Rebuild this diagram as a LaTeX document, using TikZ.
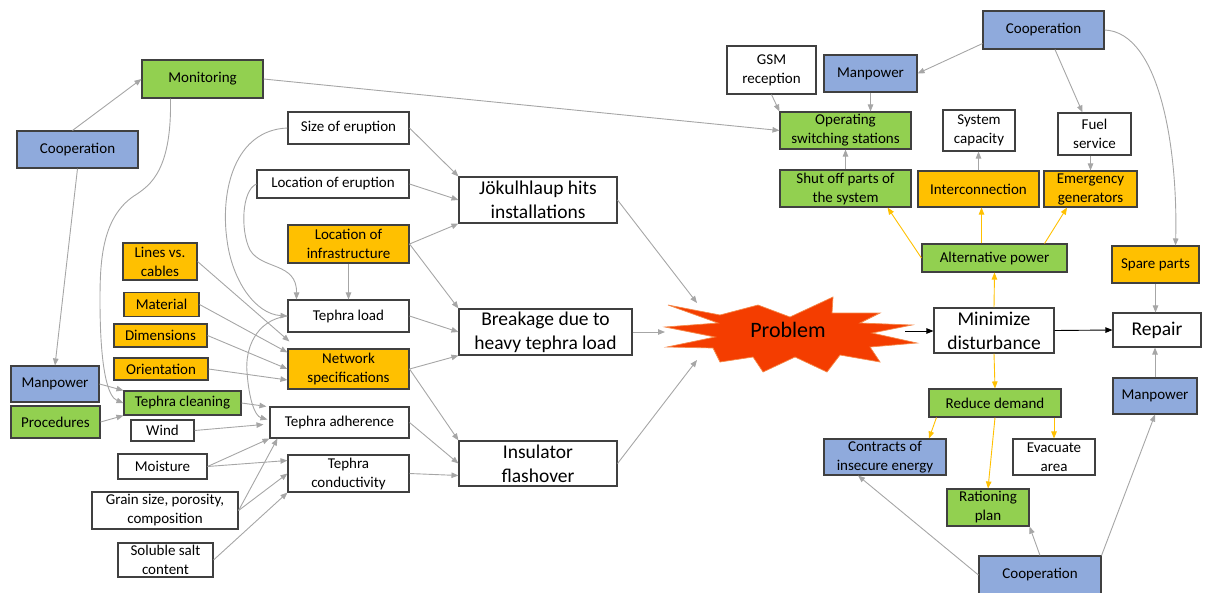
\documentclass[tikz,border=0pt]{standalone}
\usepackage{fontspec}
\setmainfont{Carlito}
\usepackage{tikz}
\usetikzlibrary{arrows.meta}

\definecolor{coopblue}{HTML}{8FAADC}
\definecolor{actgreen}{HTML}{92D050}
\definecolor{techorange}{HTML}{FFC000}
\definecolor{edgegray}{HTML}{A6A6A6}
\definecolor{boxline}{HTML}{404040}
\definecolor{burst}{HTML}{F43D00}
\definecolor{burstline}{HTML}{F4894A}

\tikzset{
  box/.style={draw=boxline, line width=1.1pt, fill=white, align=center, inner sep=1pt,
    font=\fontsize{15}{19}\selectfont},
  big/.style={font=\fontsize{19.5}{24}\selectfont},
  boxsize/.style 2 args={minimum width=#1pt, minimum height=#2pt},
  coop/.style={fill=coopblue},
  act/.style={fill=actgreen},
  tech/.style={fill=techorange},
  link/.style={color=edgegray, line width=0.9pt, -{Triangle[length=7pt,width=5.5pt]}},
  warm/.style={color=techorange, line width=0.9pt, -{Triangle[length=7pt,width=5.5pt]}},
  flow/.style={color=black, line width=0.9pt, -{Triangle[length=7pt,width=5.5pt]}}
}

\begin{document}
\begin{tikzpicture}[x=1pt, y=-1pt]
\useasboundingbox (0,0) rectangle (1206,592);

% left side: causes
\begin{scope}[every node/.style={box}]
  \node[coop, boxsize={121}{37}] (coopL) at (77.5,149.5) {Cooperation};
  \node[act, boxsize={121}{38}] (mon) at (202.5,79) {Monitoring};
  \node[boxsize={121}{32}] (sizeer) at (348.5,128) {Size of eruption};
  \node[boxsize={152}{28}] (loceru) at (333,184) {Location of eruption};
  \node[tech, boxsize={121}{38}] (locinf) at (348.5,244) {Location of\\infrastructure};
  \node[tech, boxsize={74}{37}] (lines) at (160,261.5) {Lines vs.\\cables};
  \node[tech, boxsize={75}{24}] (material) at (161.5,304.5) {Material};
  \node[tech, boxsize={93}{23}] (dims) at (160.5,335.5) {Dimensions};
  \node[tech, boxsize={94}{22}] (orient) at (161,369) {Orientation};
  \node[coop, boxsize={88}{36}] (manL) at (55,384) {Manpower};
  \node[act, boxsize={89}{32}] (proc) at (55.5,422) {Procedures};
  \node[act, boxsize={117}{24}] (clean) at (182.5,403) {Tephra cleaning};
  \node[boxsize={63}{21}] (wind) at (162.5,430.5) {Wind};
  \node[boxsize={89}{25}] (moist) at (162.5,466.5) {Moisture};
  \node[boxsize={146}{37}] (grain) at (165,510.5) {Grain size, porosity,\\composition};
  \node[boxsize={95}{34}] (salt) at (165.5,560) {Soluble salt\\content};
  \node[boxsize={121}{32}] (tload) at (348.5,316) {Tephra load};
  \node[tech, boxsize={121}{40}] (netspec) at (348.5,369) {Network\\specifications};
  \node[boxsize={139}{31}] (adher) at (339.5,422.5) {Tephra adherence};
  \node[boxsize={121}{37}] (cond) at (348.5,473.5) {Tephra\\conductivity};
\end{scope}

% middle
\begin{scope}[every node/.style={box, big}]
  \node[boxsize={158}{46}] (jok) at (538,200) {Jökulhlaup hits\\installations};
  \node[boxsize={173}{46}] (brk) at (545.5,332) {Breakage due to\\heavy tephra load};
  \node[boxsize={158}{45}] (insul) at (538,463.5) {Insulator\\flashover};
  \node[boxsize={120}{45}] (minim) at (994,330.5) {Minimize\\disturbance};
  \node[boxsize={88}{34}] (repair) at (1157,330) {Repair};
\end{scope}

\filldraw[fill=burst, draw=burstline, line width=0.7pt]
  (668,305) -- (720,315) -- (758,305) -- (790,317) -- (833,297) -- (832,313)
  -- (880,313) -- (860,323) -- (912,325) -- (872,333) -- (917,343) -- (870,347)
  -- (880,362) -- (840,355) -- (827,372) -- (795,357) -- (763,372) -- (753,357)
  -- (720,362) -- (713,348) -- (667,347) -- (715,337) -- (665,327) -- (718,323) -- cycle;
\node[font=\fontsize{22}{26}\selectfont] (prob) at (788,330) {Problem};
\coordinate (pN) at (697,303);
\coordinate (pW) at (665,332);
\coordinate (pS) at (697,360);
\coordinate (pE) at (905,331);

% right side: measures
\begin{scope}[every node/.style={box}]
  \node[act, boxsize={132}{28}] (redu) at (995,403) {Reduce demand};
  \node[coop, boxsize={122}{36}] (contr) at (885,457) {Contracts of\\insecure energy};
  \node[boxsize={82}{36}] (evac) at (1054,457) {Evacuate\\area};
  \node[act, boxsize={82}{37}] (ration) at (988,507.5) {Rationing\\plan};
  \node[coop, boxsize={122}{38}] (coopB) at (1040,575) {Cooperation};
  \node[coop, boxsize={84}{36}] (manR) at (1155,396) {Manpower};
  \node[tech, boxsize={87}{37}] (spare) at (1155.5,264.5) {Spare parts};
  \node[act, boxsize={145}{28}] (alt) at (994.5,258) {Alternative power};
  \node[act, boxsize={131}{37}] (shut) at (845.5,188.5) {Shut off parts of\\the system};
  \node[tech, boxsize={121}{36}] (inter) at (978.5,189) {Interconnection};
  \node[tech, boxsize={93}{36}] (emerg) at (1090.5,189) {Emergency\\generators};
  \node[act, boxsize={131}{37}] (oss) at (845.5,130.5) {Operating\\switching stations};
  \node[boxsize={72}{41}] (syscap) at (979,130.5) {System\\capacity};
  \node[boxsize={73}{42}] (fuel) at (1094.5,134) {Fuel\\service};
  \node[boxsize={89}{48}] (gsm) at (771.5,70) {GSM\\reception};
  \node[coop, boxsize={93}{37}] (manT) at (870.5,73.5) {Manpower};
  \node[coop, boxsize={121}{38}] (coopT) at (1043.5,30) {Cooperation};
\end{scope}

% gray links
\path[link] ([xshift=-5pt]coopL.north) edge (mon.west);
\path[link] (coopL.south) edge (manL.north);
\path[link] (mon.east) edge (oss.west);
\path[link] (manL.east) edge (clean.north west);
\path[link] (proc.east) edge (clean.south west);
\path[link] (sizeer.east) edge (jok.north west);
\path[link] (loceru.east) edge (jok.west);
\path[link] (locinf.east) edge (jok.south west);
\path[link] (locinf.east) edge (brk.north west);
\path[link] (locinf.south) edge (tload.north);
\path[link] (tload.east) edge (brk.west);
\path[link] (netspec.east) edge (brk.south west);
\path[link] (netspec.east) edge (insul.north west);
\path[link] (adher.east) edge (insul.west);
\path[link] (cond.east) edge ([yshift=-12pt]insul.west);
\path[link] (lines.east) edge ([xshift=2pt,yshift=7pt]netspec.north west);
\path[link] (material.east) edge ([yshift=-4pt]netspec.north west);
\path[link] (dims.east) edge (netspec.west);
\path[link] (orient.east) edge ([yshift=-11pt]netspec.west);
\path[link] (clean.east) edge ([xshift=-3pt]adher.north west);
\path[link] (wind.east) edge ([xshift=-6pt,yshift=-2pt]adher.west);
\path[link] (moist.east) edge (adher.south west);
\path[link] (moist.east) edge ([yshift=13pt]cond.west);
\path[link] (grain.east) edge ([xshift=8pt]adher.south west);
\path[link] (grain.east) edge (cond.west);
\path[link] (salt.east) edge (cond.south west);
\path[link] (jok.east) edge (pN);
\path[link] (brk.east) edge (pW);
\path[link] (insul.east) edge (pS);

\draw[link] ([xshift=29pt]mon.south west) .. controls (172,170) and (150,185) .. (137,194)
  .. controls (102,215) and (100,260) .. (100,300)
  .. controls (100,370) and (108,397) .. (clean.west);
\draw[link] (sizeer.west) .. controls (235,130) and (220,190) .. (227,240)
  .. controls (232,280) and (255,314) .. (tload.west);
\draw[link] (loceru.west) .. controls (242,190) and (240,230) .. (250,250)
  .. controls (262,270) and (297,262) .. ([xshift=9pt]tload.north west);
\draw[link] (tload.west) .. controls (255,320) and (245,350) .. (247,372)
  .. controls (249,400) and (255,416) .. ([xshift=-2pt,yshift=3pt]adher.west);

\path[link] (gsm.south) edge (oss.north west);
\path[link] (manT.south) edge (manT.south |- oss.north);
\path[link] ([yshift=6pt]coopT.south west) edge (manT.east);
\path[link] ([xshift=11.5pt]coopT.south) edge ([xshift=-12pt]fuel.north);
\path[link] (shut.north) edge (oss.south);
\path[link] (inter.north) edge (inter.north |- syscap.south);
\path[link] (fuel.south -| emerg.north) edge (emerg.north);
\path[link] (spare.south) edge (spare.south |- repair.north);
\path[link] (manR.north) edge (manR.north |- repair.south);
\path[link] (coopB.north east) edge (manR.south);
\path[link] (coopB.north) edge (ration.south east);
\path[link] (coopB.west) edge ([xshift=-27pt]contr.south);
\draw[link] (coopT.east) .. controls (1160,32) and (1178,150) .. ([xshift=20pt]spare.north);

% yellow links
\path[warm] (minim.south) edge (redu.north);
\path[warm] (minim.north) edge (alt.south);
\path[warm] (alt.west) edge ([xshift=-24pt]shut.south east);
\path[warm] ([xshift=-13pt]alt.north) edge ([xshift=-13pt]alt.north |- inter.south);
\path[warm] ([xshift=-23pt]alt.north east) edge ([xshift=-23.5pt]emerg.south);
\path[warm] ([xshift=8pt]redu.south west) edge ([xshift=44pt]contr.north);
\path[warm] (redu.south) edge (ration.north);
\path[warm] (evac.north |- redu.south) edge (evac.north);

% black links
\path[flow] (pE) edge (pE -| minim.west);
\path[flow] (minim.east) edge (repair.west);

\end{tikzpicture}
\end{document}
